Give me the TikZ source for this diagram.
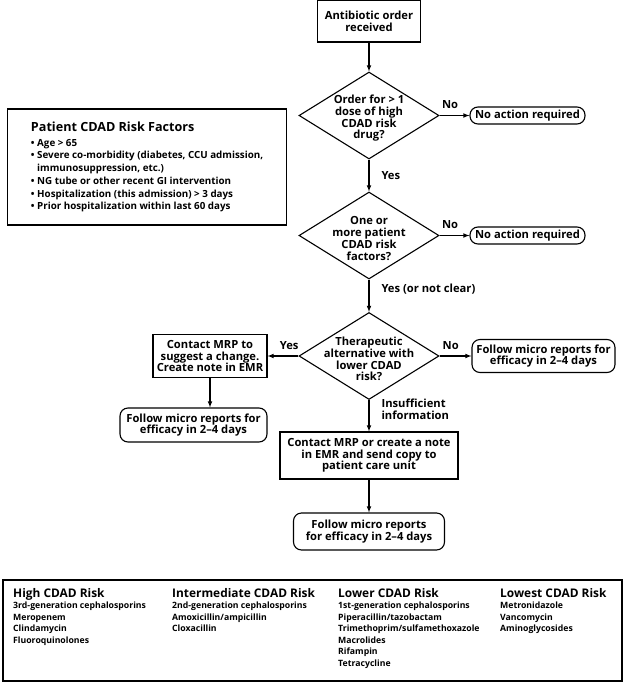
\documentclass[tikz,border=0pt]{standalone}
\usepackage{fontspec}
\setmainfont{Open Sans}
\usetikzlibrary{shapes.geometric,positioning}

\begin{document}
\begin{tikzpicture}[>=latex, x=1pt, y=-1pt,
  every node/.style={font=\bfseries\fontsize{11.2}{11.7}\selectfont},
  box/.style={draw, line width=1.1pt, align=center, inner sep=0pt},
  decision/.style={draw, line width=1.1pt, diamond, minimum width=140pt, minimum height=87pt, inner sep=0pt},
  dtext/.style={align=center, inner sep=0pt, yshift=-3pt},
  term/.style={draw, line width=1.1pt, rounded corners=8pt, align=center, inner sep=0pt},
  lbl/.style={inner sep=1pt, align=left},
  flow/.style={->, line width=1.1pt},
  col/.style={anchor=north west, align=left, inner sep=0pt, font=\bfseries\fontsize{8.7}{11.5}\selectfont}]
  \useasboundingbox (0,0) rectangle (626,683);

  % main column
  \node[box, minimum width=103pt, minimum height=42pt] (order) at (369,21) {Antibiotic order\\received};
  \node[decision, label={[dtext]center:Order for > 1\\dose of high\\CDAD risk\\drug?}] (dose) at (369,115.5) {};
  \node[decision, label={[dtext]center:One or\\more patient\\CDAD risk\\factors?}] (factors) at (369,235.5) {};
  \node[decision, label={[dtext]center:Therapeutic\\alternative with\\lower CDAD\\risk?}] (alt) at (369,356) {};
  \node[box, minimum width=178pt, minimum height=47pt] (note) at (369,455.5) {Contact MRP or create a note\\in EMR and send copy to\\patient care unit};
  \node[term, minimum width=151pt, minimum height=37pt] (follow3) at (369,531.5) {Follow micro reports\\for efficacy in 2--4 days};

  % side branches
  \node[term, minimum width=115pt, minimum height=17pt] (noaction1) at (527.5,115.5) {No action required};
  \node[term, minimum width=115pt, minimum height=17pt] (noaction2) at (527.5,235.5) {No action required};
  \node[term, minimum width=143pt, minimum height=33pt] (follow2) at (543.5,356) {Follow micro reports for\\efficacy in 2--4 days};
  \node[box, minimum width=114pt, minimum height=43pt] (contact) at (210,356) {Contact MRP to\\suggest a change.\\Create note in EMR};
  \node[term, minimum width=147pt, minimum height=34pt] (follow1) at (193.5,425) {Follow micro reports for\\efficacy in 2--4 days};

  % connectors
  \draw[flow] (order) -- (dose);
  \draw[flow] (dose) -- node[lbl, right=11pt] {Yes} (factors);
  \draw[flow] (factors) -- node[lbl, right=11pt, pos=0.3] {Yes (or not clear)} (alt);
  \draw[flow] (alt) -- node[lbl, right=11pt, pos=0.3] {Insufficient\\information} (note);
  \draw[flow] (note) -- (follow3);
  \draw[flow] (dose) -- node[lbl, above=5pt, pos=0.35] {No} (noaction1);
  \draw[flow] (factors) -- node[lbl, above=5pt, pos=0.35] {No} (noaction2);
  \draw[flow] (alt) -- node[lbl, above=5pt, pos=0.35] {No} (follow2);
  \draw[flow] (alt) -- node[lbl, above=5pt, pos=0.3] {Yes} (contact);
  \draw[flow] (contact) -- (contact |- follow1.north);

  % risk factors
  \node[draw, line width=1.1pt, anchor=west, inner xsep=21pt, minimum width=279pt, minimum height=116pt, align=left,
    font=\bfseries\fontsize{9.8}{12.7}\selectfont] (riskbox) at (7,167)
    {{\fontsize{12.6}{15}\selectfont Patient CDAD Risk Factors}\\[2pt]
     \textbullet\ Age > 65\\
     \textbullet\ Severe co-morbidity (diabetes, CCU admission,\\
     \hphantom{\textbullet\ }immunosuppression, etc.)\\
     \textbullet\ NG tube or other recent GI intervention\\
     \textbullet\ Hospitalization (this admission) > 3 days\\
     \textbullet\ Prior hospitalization within last 60 days};

  % drug classes
  \node[draw, line width=1.1pt, minimum width=619pt, minimum height=101pt, inner sep=0pt] (drugs) at (312.5,630.5) {};
  \node[col] (high) at (13,588) {{\fontsize{11.9}{13}\selectfont High CDAD Risk}\\
    3rd-generation cephalosporins\\Meropenem\\Clindamycin\\Fluoroquinolones};
  \node[col] (inter) at (172,588) {{\fontsize{11.9}{13}\selectfont Intermediate CDAD Risk}\\
    2nd-generation cephalosporins\\Amoxicillin/ampicillin\\Cloxacillin};
  \node[col] (lower) at (338,588) {{\fontsize{11.9}{13}\selectfont Lower CDAD Risk}\\
    1st-generation cephalosporins\\Piperacillin/tazobactam\\Trimethoprim/sulfamethoxazole\\Macrolides\\Rifampin\\Tetracycline};
  \node[col] (lowest) at (500,588) {{\fontsize{11.9}{13}\selectfont Lowest CDAD Risk}\\
    Metronidazole\\Vancomycin\\Aminoglycosides};
\end{tikzpicture}
\end{document}
